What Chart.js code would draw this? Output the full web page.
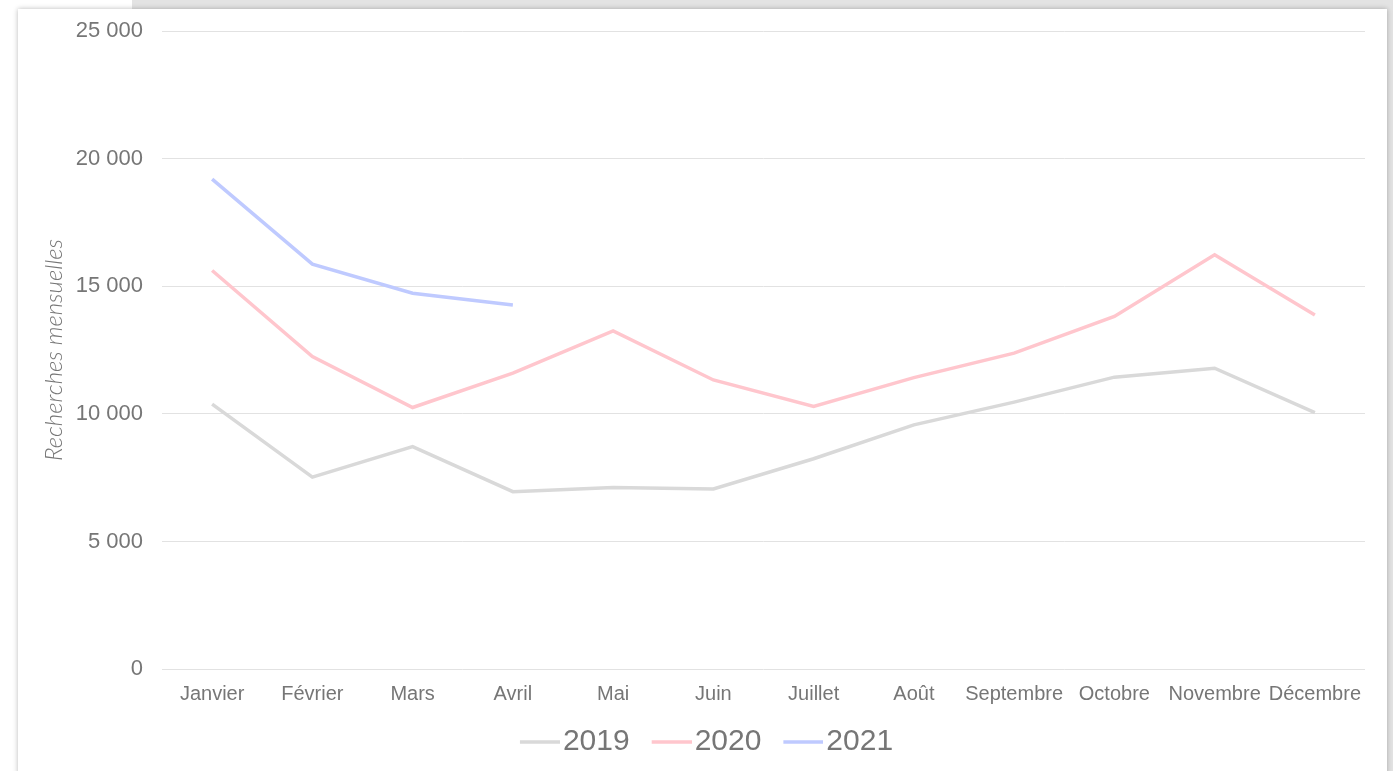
<!DOCTYPE html>
<html>
<head>
<meta charset="utf-8">
<script src="https://cdn.jsdelivr.net/npm/chart.js@4.4.1/dist/chart.umd.min.js"></script>
<style>
    html, body {
        margin: 0;
        padding: 0;
        width: 1393px;
        height: 771px;
        overflow: hidden;
        background: #ffffff;
    }
    .backdrop {
        position: absolute;
        left: 132px;
        top: 0;
        width: 1261px;
        height: 771px;
        background: #e3e3e3;
    }
    .card {
        position: absolute;
        left: 18px;
        top: 9px;
        width: 1369px;
        height: 766px;
        background: #ffffff;
        box-shadow: 0 0 5px rgba(0, 0, 0, 0.28);
    }
    .chart-box {
        position: absolute;
        left: 0;
        top: -10px;
        width: 1369px;
        height: 776px;
    }
</style>
</head>
<body>
<div class="backdrop"></div>
<div class="card">
    <div class="chart-box">
        <canvas id="searchChart"></canvas>
    </div>
</div>

<script>
    const months = ['Janvier', 'Février', 'Mars', 'Avril', 'Mai', 'Juin', 'Juillet', 'Août', 'Septembre', 'Octobre', 'Novembre', 'Décembre'];
    const searches2019 = [10380, 7520, 8720, 6950, 7110, 7060, 8240, 9570, 10460, 11440, 11790, 10050];
    const searches2020 = [15620, 12250, 10250, 11600, 13250, 11330, 10290, 11420, 12380, 13820, 16240, 13880];
    const searches2021 = [19200, 15870, 14730, 14270];

    const textGray = '#767676';

    // short line sample for the legend, pushed to the right so it sits close to the label
    function legendLine(color) {
        const c = document.createElement('canvas');
        c.width = 64;
        c.height = 6;
        const g = c.getContext('2d');
        g.strokeStyle = color;
        g.lineWidth = 3.5;
        g.beginPath();
        g.moveTo(24, 3);
        g.lineTo(64, 3);
        g.stroke();
        return c;
    }

    function series(label, data, color) {
        return {
            label: label,
            data: data,
            borderColor: color,
            backgroundColor: color,
            borderWidth: 3.5,
            tension: 0,
            fill: false,
            pointRadius: 0,
            pointHoverRadius: 0,
            pointStyle: legendLine(color)
        };
    }

    const ctx = document.getElementById('searchChart').getContext('2d');

    const searchChart = new Chart(ctx, {
        type: 'line',
        data: {
            labels: months,
            datasets: [
                series('2019', searches2019, '#d9d9d9'),
                series('2020', searches2020, '#ffc6cd'),
                series('2021', searches2021, '#bfcaff')
            ]
        },
        options: {
            responsive: true,
            maintainAspectRatio: false,
            animation: false,
            layout: {
                padding: { left: 18, right: 22, top: 13, bottom: 8 }
            },
            scales: {
                x: {
                    offset: true,
                    grid: { display: false },
                    border: { display: false },
                    ticks: {
                        color: textGray,
                        font: { family: 'Liberation Sans, Arial', size: 20 },
                        padding: 5,
                        maxRotation: 0,
                        minRotation: 0,
                        autoSkip: false
                    },
                    afterFit: scale => { scale.height = 48; }
                },
                y: {
                    min: 0,
                    max: 25000,
                    grid: {
                        color: '#e2e2e2',
                        lineWidth: 1,
                        drawTicks: false
                    },
                    border: { display: false },
                    ticks: {
                        stepSize: 5000,
                        color: textGray,
                        padding: 19,
                        font: { family: 'Liberation Sans, Arial', size: 22 },
                        callback: v => String(v).replace(/\B(?=(\d{3})+(?!\d))/g, ' ')
                    },
                    title: {
                        display: true,
                        text: 'Recherches mensuelles',
                        color: textGray,
                        font: { family: 'Lato', size: 24, style: 'italic', weight: 300 }
                    },
                    afterFit: scale => { scale.width = 126; }
                }
            },
            plugins: {
                legend: {
                    display: true,
                    position: 'bottom',
                    labels: {
                        usePointStyle: true,
                        pointStyleWidth: 40,
                        padding: 10,
                        color: textGray,
                        font: { family: 'Liberation Sans, Arial', size: 30 }
                    }
                },
                tooltip: { enabled: false }
            }
        }
    });
</script>
</body>
</html>
